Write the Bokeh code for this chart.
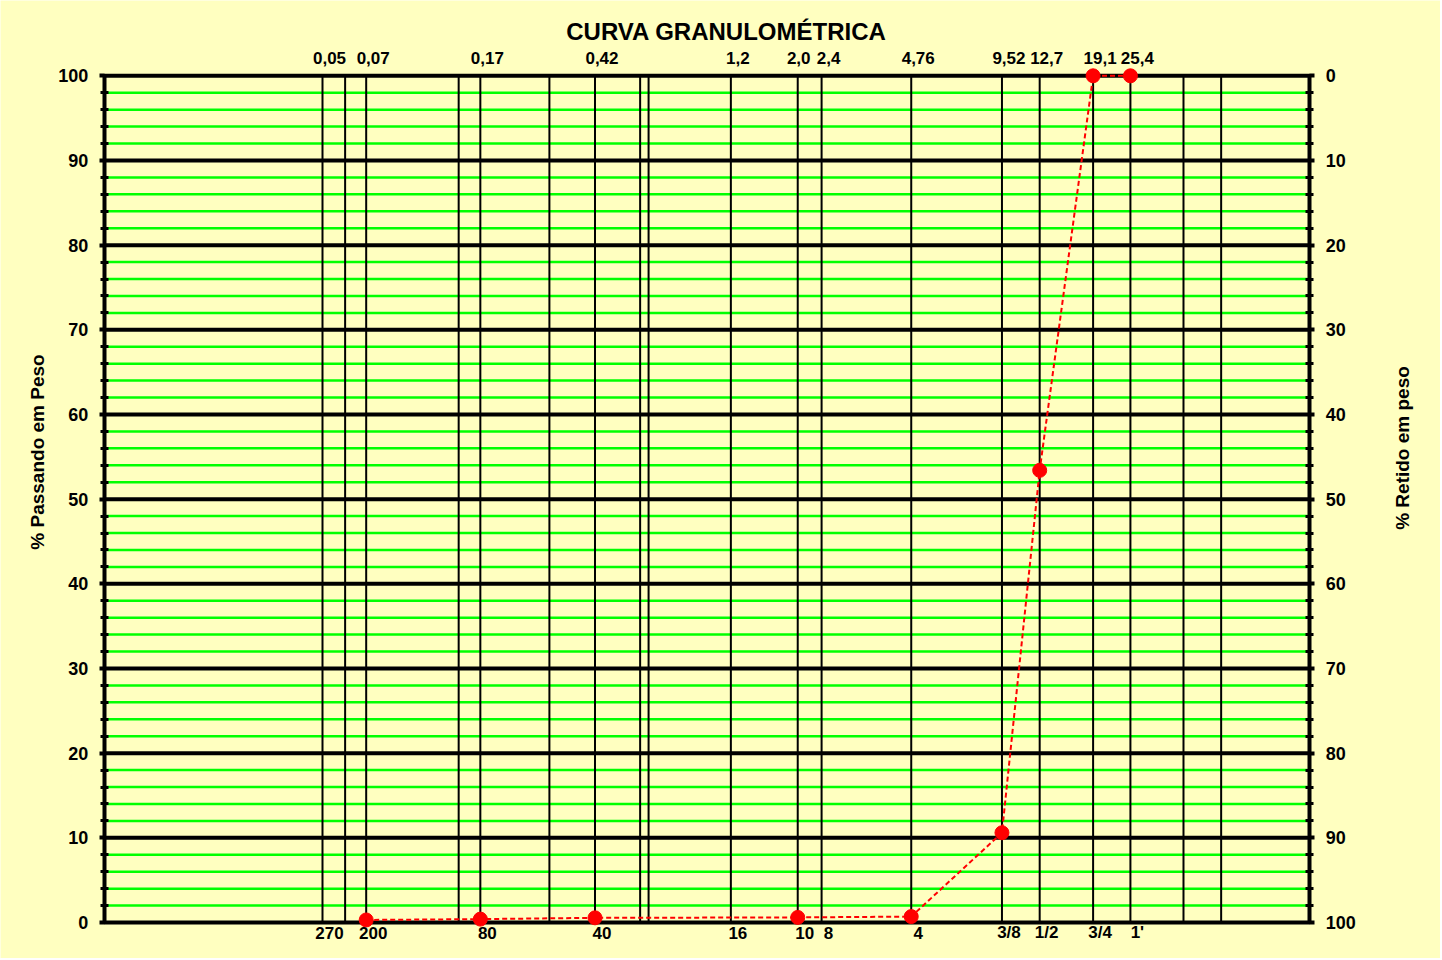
import math
from bokeh.plotting import figure
from bokeh.models import (Range1d, LinearAxis, FixedTicker, ColumnDataSource,
                          LabelSet, Label)
from bokeh.core.properties import value
from bokeh.embed import file_html
from bokeh.resources import INLINE

# ---------------- data ----------------
# sieve openings (mm) drawn as vertical reference lines
grid_mm = [0.053, 0.063, 0.074, 0.15, 0.177, 0.30, 0.425, 0.60, 0.64, 1.2, 2.0, 2.4,
           4.76, 9.52, 12.7, 19.1, 25.4, 38.1, 50.8]
# labelled sieves
label_mm = [0.053, 0.074, 0.177, 0.425, 1.2, 2.0, 2.4, 4.76, 9.52, 12.7, 19.1, 25.4]
top_labels = ["0,05", "0,07", "0,17", "0,42", "1,2", "2,0", "2,4", "4,76", "9,52",
              "12,7", "19,1", "25,4"]
bottom_labels = ["270", "200", "80", "40", "16", "10", "8", "4", "3/8", "1/2", "3/4", "1'"]
# sample: sieve opening (mm) and % passing
sample_mm = [0.074, 0.177, 0.425, 2.0, 4.76, 9.52, 12.7, 19.1, 25.4]
passing = [0.3, 0.4, 0.55, 0.6, 0.7, 10.6, 53.4, 100, 100]
y_major = list(range(0, 101, 10))
y_all = list(range(0, 101, 2))
y_minor = [v for v in y_all if v % 10]
X_MIN, X_MAX = 0.01, 100        # chart domain (mm)

# ---------------- layout / style ----------------
BG = "#FFFFC0"
FONT = "Liberation Sans"
W, H = 1440, 958
L_PX, R_PX = 103.7, 1309.3       # pixel columns of X_MIN / X_MAX
TOP0, BOT0 = 75.3, 922.0         # pixel rows of 100 % / 0 %
PXD = (R_PX - L_PX) / math.log10(X_MAX / X_MIN)
PX = (BOT0 - TOP0) / 100.0
X_START = X_MIN * 10 ** (-L_PX / PXD)
X_END = X_MAX * 10 ** ((W - R_PX) / PXD)
Y_START = -(H - BOT0) / PX
Y_END = 100 + TOP0 / PX

p = figure(x_axis_type="log", x_range=Range1d(X_START, X_END),
           y_range=Range1d(Y_START, Y_END),
           frame_width=W, frame_height=H,
           min_border_left=0, min_border_right=0, min_border_top=0, min_border_bottom=0,
           output_backend="svg", toolbar_location=None,
           background_fill_color=BG, border_fill_color=BG,
           x_axis_location=None, y_axis_location=None)
p.outline_line_color = None
for g in p.grid:
    g.visible = False

# horizontal rules: green every 2 %, black every 10 %
p.segment(x0=X_MIN, x1=X_MAX, y0="y", y1="y", source=ColumnDataSource(dict(y=y_minor)),
          line_color="#00FF00", line_width=2.5)
# vertical sieve lines
p.segment(x0="mm", y0=0, x1="mm", y1=100, source=ColumnDataSource(dict(mm=grid_mm)),
          line_color="black", line_width=2)
p.segment(x0=X_MIN, x1=X_MAX, y0="y", y1="y", source=ColumnDataSource(dict(y=y_major)),
          line_color="black", line_width=4)

def style_axis(ax):
    ax.axis_line_width = 4
    ax.major_tick_in = 0
    ax.major_tick_out = 5
    ax.major_tick_line_width = 4
    ax.minor_tick_in = 4
    ax.minor_tick_out = 4
    ax.minor_tick_line_width = 3
    ax.major_label_standoff = 11
    ax.major_label_text_font = FONT
    ax.major_label_text_font_style = "bold"
    ax.major_label_text_font_size = "18px"
    ax.major_label_text_color = "black"

p.extra_y_ranges = {"ret": Range1d(100 - Y_START, 100 - Y_END)}

yl = LinearAxis(fixed_location=X_MIN, bounds=(0, 100),
                ticker=FixedTicker(ticks=y_major, minor_ticks=y_all))
style_axis(yl)
p.add_layout(yl, "left")

yr = LinearAxis(fixed_location=X_MAX, y_range_name="ret", bounds=(0, 100),
                ticker=FixedTicker(ticks=y_major, minor_ticks=y_all))
style_axis(yr)
p.add_layout(yr, "right")

# data
src = ColumnDataSource(dict(mm=sample_mm, passing=passing))
p.line("mm", "passing", source=src, line_color="#FF0000", line_width=2, line_dash="5 3")
p.scatter("mm", "passing", source=src, size=14, fill_color="#FF0000", line_color="#FF0000")

# sieve labels (top: opening in mm, bottom: sieve number)
# labels sit a little right of their line, unless the next line is very close
def offsets(xs, normal=7, crowded=1):
    out = []
    for i, x in enumerate(xs):
        close = i + 1 < len(xs) and math.log10(xs[i + 1] / x) < 0.1
        out.append(crowded if close else normal)
    return out

top_src = ColumnDataSource(dict(x=label_mm, text=top_labels, dx=offsets(label_mm)))
bot_src = ColumnDataSource(dict(x=label_mm, text=bottom_labels))
common = dict(text_font=value(FONT), text_font_style="bold", text_font_size="17px",
              text_color="black", text_align="center", text_baseline="middle")
p.add_layout(LabelSet(x="x", y=100, text="text", source=top_src, x_offset="dx",
                      y_offset=18, **common))
p.add_layout(LabelSet(x="x", y=0, text="text", source=bot_src, x_offset=7,
                      y_offset=-10, **common))

# chart title and axis titles
txt = dict(x_units="screen", y_units="screen", text_font=FONT, text_font_style="bold",
           text_color="black", text_align="center", text_baseline="middle")
p.add_layout(Label(x=726, y=H - 30.8, text="CURVA GRANULOMÉTRICA",
                   text_font_size="24px", **txt))
p.add_layout(Label(x=37, y=H - 451.5, angle=math.pi / 2, text="% Passando em Peso",
                   text_font_size="19px", **txt))
p.add_layout(Label(x=1402, y=H - 447.5, angle=math.pi / 2, text="% Retido em peso",
                   text_font_size="19px", **txt))

open("out.html", "w").write(file_html(p, INLINE))
